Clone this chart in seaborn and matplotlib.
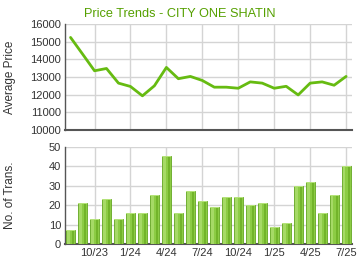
import matplotlib
matplotlib.use("Agg")
import matplotlib.pyplot as plt
import seaborn as sns
import pandas as pd
import numpy as np

months = ["8/23","9/23","10/23","11/23","12/23","1/24","2/24","3/24","4/24","5/24","6/24","7/24",
          "8/24","9/24","10/24","11/24","12/24","1/25","2/25","3/25","4/25","5/25","6/25","7/25"]
avg_price = [15240, 14300, 13350, 13480, 12650, 12460, 11930, 12500, 13540, 12900, 13030, 12800,
             12420, 12420, 12360, 12720, 12650, 12360, 12470, 11980, 12650, 12720, 12530, 13030]
num_trans = [7, 21, 13, 23, 13, 16, 16, 25, 45, 16, 27, 22, 19, 24, 24, 20, 21, 9, 11, 30, 32, 16, 25, 40]
tick_labels = ["10/23", "1/24", "4/24", "7/24", "10/24", "1/25", "4/25", "7/25"]

sns.set_theme(style="white")
plt.rcParams['font.family'] = ['Liberation Sans', 'DejaVu Sans']

df = pd.DataFrame({"idx": np.arange(len(months)), "month": months,
                   "price": avg_price, "trans": num_trans})
tick_pos = [months.index(t) for t in tick_labels]

fig = plt.figure(figsize=(3.6, 2.7), dpi=100)
ax1 = fig.add_axes([0.181, 0.519, 0.797, 0.392])
ax2 = fig.add_axes([0.181, 0.096, 0.797, 0.361])

grid_c = "#d4d4d4"
spine_c = "#555555"
txt_c = "#333333"
green_line = "#66bb11"

# top: price line
sns.lineplot(data=df, x="idx", y="price", ax=ax1, color=green_line, linewidth=2.0, zorder=3)
ax1.set_xlim(-0.45, 23.5)
ax1.set_ylim(10000, 16000)
ax1.set_yticks(range(10000, 16001, 1000))
ax1.set_xticks(tick_pos)
ax1.set_xticklabels([])
ax1.set_xlabel("")
ax1.set_ylabel("Average Price", fontsize=8.5, color=txt_c)
ax1.yaxis.set_label_coords(-0.172, 0.5)

# bottom: bars
sns.barplot(data=df, x="idx", y="trans", ax=ax2, color="#8ccc44", width=0.75,
            edgecolor="#64a622", linewidth=0.6, saturation=1, zorder=3)
ax2.set_xlim(-0.45, 23.5)
ax2.set_ylim(0, 50)
ax2.set_yticks(range(0, 51, 10))
ax2.set_xticks(tick_pos)
ax2.set_xticklabels(tick_labels)
ax2.set_xlabel("")
ax2.set_ylabel("No. of Trans.", fontsize=8.5, color=txt_c)
ax2.yaxis.set_label_coords(-0.172, 0.5)

# shading on bars
for p in list(ax2.patches):
    x, w, h = p.get_x(), p.get_width(), p.get_height()
    ax2.add_patch(plt.Rectangle((x + w * 0.15, 0), w * 0.28, h, color="#a6da66", lw=0, zorder=4))
    ax2.add_patch(plt.Rectangle((x + w * 0.70, 0), w * 0.22, h, color="#72b42a", lw=0, zorder=4))
    ax2.add_patch(plt.Rectangle((x, h - 0.5), w, 0.5, color="#b4e27a", lw=0, zorder=5))

for ax in (ax1, ax2):
    ax.grid(True, color=grid_c, linewidth=1.0)
    ax.set_axisbelow(True)
    for s in ("top", "right"):
        ax.spines[s].set_visible(False)
    ax.spines["left"].set_color(spine_c)
    ax.spines["bottom"].set_color(spine_c)
    ax.spines["left"].set_linewidth(1.0)
    ax.spines["bottom"].set_linewidth(1.5)
    ax.tick_params(axis="both", labelsize=8, colors=txt_c, length=0, pad=3)

fig.text(0.5, 0.947, "Price Trends - CITY ONE SHATIN", ha="center", va="center",
         fontsize=9.2, color="#55a000")

fig.savefig("out.png", dpi=100)
